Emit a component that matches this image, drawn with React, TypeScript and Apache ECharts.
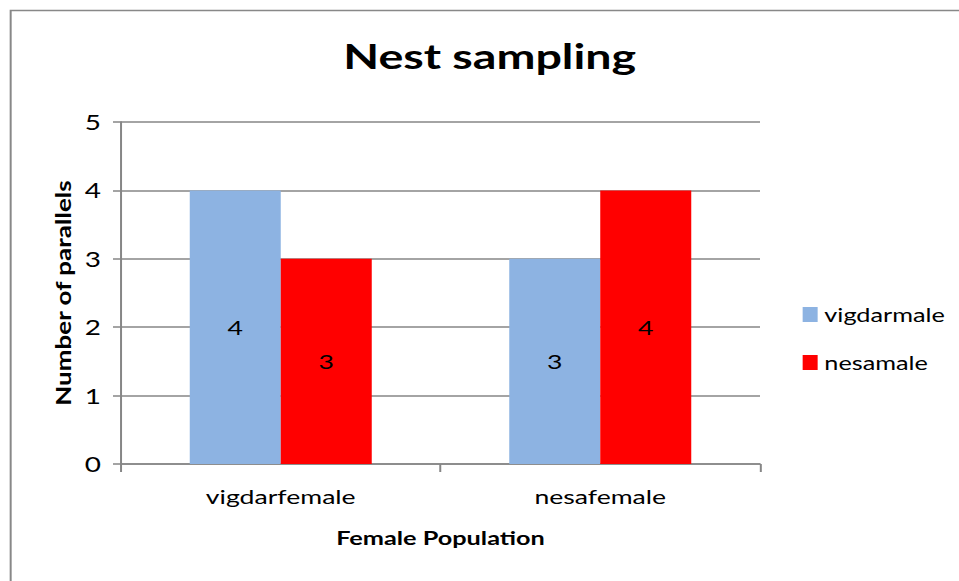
import React, { useEffect, useRef } from "react";
import * as echarts from "echarts";

const categories = ["vigdarfemale", "nesafemale"];
const seriesNames = ["vigdarmale", "nesamale"];
const vigdarmale = [4, 3];
const nesamale = [3, 4];
const yTicks = [0, 1, 2, 3, 4, 5];
const chartTitle = "Nest sampling";
const xAxisTitle = "Female Population";
const yAxisTitle = "Number of parallels";

const FONT = "Lato, 'Open Sans', sans-serif";
// The reference picture is stretched horizontally; reproduce that with a CSS scaleX.
const W = 959;
const H = 581;
const S = 1.33;
const IW = Math.round(W / S);
const SX = W / IW;
const sx = (v: number) => v / SX;

export default function App() {
  const ref = useRef<HTMLDivElement>(null);
  useEffect(() => {
    if (!ref.current) return;
    const chart = echarts.init(ref.current, undefined, { renderer: "svg" });
    const labelCfg = {
      show: true,
      position: "inside",
      color: "#000",
      fontSize: 20,
      fontFamily: FONT,
    };
    chart.setOption({
      animation: false,
      backgroundColor: "#fff",
      textStyle: { fontFamily: FONT },
      title: {
        text: chartTitle,
        left: sx(483),
        textAlign: "center",
        top: 33,
        textStyle: { fontSize: 35, fontWeight: "bold", color: "#000", fontFamily: FONT },
      },
      graphic: [
        {
          type: "rect",
          shape: { x: sx(10) + 0.5, y: 10.5, width: 2000, height: 2000 },
          style: { fill: "none", stroke: "#888", lineWidth: 1.5 },
          silent: true,
        },
        {
          type: "text",
          x: sx(62),
          y: 293,
          rotation: Math.PI / 2,
          scaleX: 1.3,
          scaleY: 0.82,
          style: {
            text: yAxisTitle,
            font: "bold 20px Lato, 'Open Sans', sans-serif",
            fill: "#000",
            align: "center",
            verticalAlign: "middle",
            textAlign: "center",
            textVerticalAlign: "middle",
          },
          silent: true,
        },
      ],
      legend: {
        orient: "vertical",
        left: sx(796),
        top: 300,
        itemWidth: sx(15),
        itemHeight: 15,
        itemGap: 29,
        itemTextGap: 4,
        icon: "rect",
        textStyle: { fontSize: 19, color: "#000", fontFamily: FONT },
        data: seriesNames,
      },
      grid: { left: sx(121), right: sx(W - 760), top: 122, bottom: H - 464 },
      xAxis: {
        type: "category",
        data: categories,
        name: xAxisTitle,
        nameLocation: "middle",
        nameGap: 64,
        nameTextStyle: { fontSize: 19, fontWeight: "bold", color: "#000", fontFamily: FONT },
        axisLine: { lineStyle: { color: "#868686", width: 1.5 } },
        axisTick: { show: true, length: 8, alignWithLabel: false, lineStyle: { color: "#868686", width: 1.5 } },
        axisLabel: { fontSize: 20, color: "#000", margin: 22, fontFamily: FONT },
      },
      yAxis: {
        type: "value",
        min: yTicks[0],
        max: yTicks[yTicks.length - 1],
        interval: 1,
        axisLine: { show: true, lineStyle: { color: "#868686", width: 1.5 } },
        axisTick: { show: true, length: sx(8), lineStyle: { color: "#868686", width: 1.5 } },
        axisLabel: { fontSize: 21, color: "#000", margin: sx(20), fontFamily: FONT },
        splitLine: { show: true, lineStyle: { color: "#868686", width: 1.5 } },
      },
      series: [
        {
          name: seriesNames[0],
          type: "bar",
          data: vigdarmale,
          barWidth: sx(91),
          barGap: "0%",
          itemStyle: { color: "#8DB3E2" },
          label: labelCfg,
        },
        {
          name: seriesNames[1],
          type: "bar",
          data: nesamale,
          barWidth: sx(91),
          barGap: "0%",
          itemStyle: { color: "#FF0000" },
          label: labelCfg,
        },
      ],
    });
    return () => chart.dispose();
  }, []);
  return (
    <div
      ref={ref}
      style={{
        position: "fixed",
        left: 0,
        top: 0,
        width: IW,
        height: H,
        transform: `scaleX(${SX})`,
        transformOrigin: "0 0",
      }}
    />
  );
}
